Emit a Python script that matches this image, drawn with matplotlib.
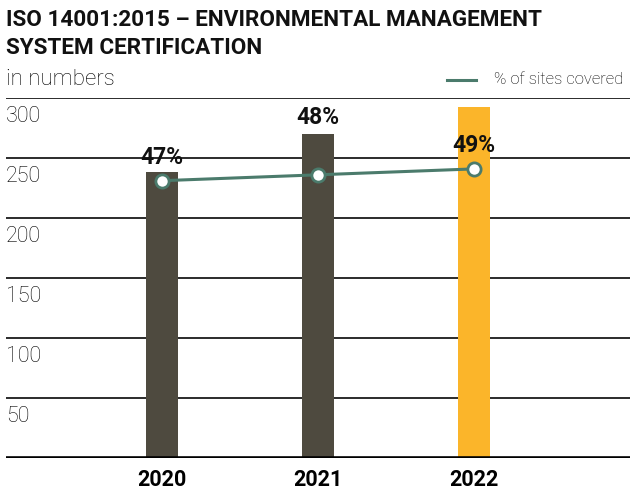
import matplotlib.pyplot as plt

# certified sites per year, and share of sites covered
years = ["2020", "2021", "2022"]
sites = [238, 270, 293]
covered_pct = [47, 48, 49]
pct_labels = ["47%", "48%", "49%"]
bar_colors = ["#4e4a3f", "#4e4a3f", "#fbb52a"]
yticks = [50, 100, 150, 200, 250, 300]

line_color = "#4b7b6c"
font = "Roboto"

fig = plt.figure(figsize=(6.3, 4.93), dpi=100)
ax = fig.add_axes([0.0095, 0.071, 0.9905, 0.730])

x = range(len(years))
ax.bar(x, sites, width=0.2, color=bar_colors, zorder=3)
ax.set_xlim(-1, 3)
ax.set_ylim(0, 300)

# gridlines with labels sitting just under each line
for v in yticks:
    ax.axhline(v, color="#1a1a1a", lw=1.3, zorder=1)
    ax.annotate(str(v), (0, v), xycoords=("axes fraction", "data"),
                xytext=(0, -6), textcoords="offset points",
                ha="left", va="top", fontsize=15.5, fontfamily=font,
                fontweight="light", color="#000000")
ax.axhline(0, color="#000000", lw=2.6, zorder=4)

ax.set_xticks(list(x))
ax.set_xticklabels(years, fontsize=15.5, fontfamily=font, fontweight="bold")
ax.tick_params(axis="x", length=0, pad=8)
ax.set_yticks([])
for s in ax.spines.values():
    s.set_visible(False)

# share of sites on its own hidden scale
ax2 = ax.twinx()
ax2.set_ylim(0, 61)
ax2.plot(x, covered_pct, color=line_color, lw=2.2, marker="o", ms=9.5,
         mfc="white", mec=line_color, mew=2, zorder=5)
offsets = [17, 41, 17]
for xi, p, lab, off in zip(x, covered_pct, pct_labels, offsets):
    ax2.annotate(lab, (xi, p), xytext=(0, off), textcoords="offset points",
                 ha="center", va="center", fontsize=16.5, fontfamily=font,
                 fontweight="bold", color="#111111")
ax2.set_yticks([])
for s in ax2.spines.values():
    s.set_visible(False)

# headings
title_lines = ["ISO 14001:2015 – ENVIRONMENTAL MANAGEMENT", "SYSTEM CERTIFICATION"]
for line, ty in zip(title_lines, [0.959, 0.903]):
    fig.text(0.0095, ty, line, ha="left", va="center", fontsize=16.2,
             fontfamily=font, fontweight="bold", color="#111111")
fig.text(0.0095, 0.838, "in numbers", ha="left", va="center", fontsize=16,
         fontfamily=font, fontweight="light", color="#000000")

# legend entry
fig.add_artist(plt.Line2D([0.71, 0.755], [0.838, 0.838], color=line_color, lw=2.2))
fig.text(0.99, 0.838, "% of sites covered", ha="right", va="center",
         fontsize=12, fontfamily=font, fontweight="light", color="#000000")

fig.savefig("out.png", dpi=100)
